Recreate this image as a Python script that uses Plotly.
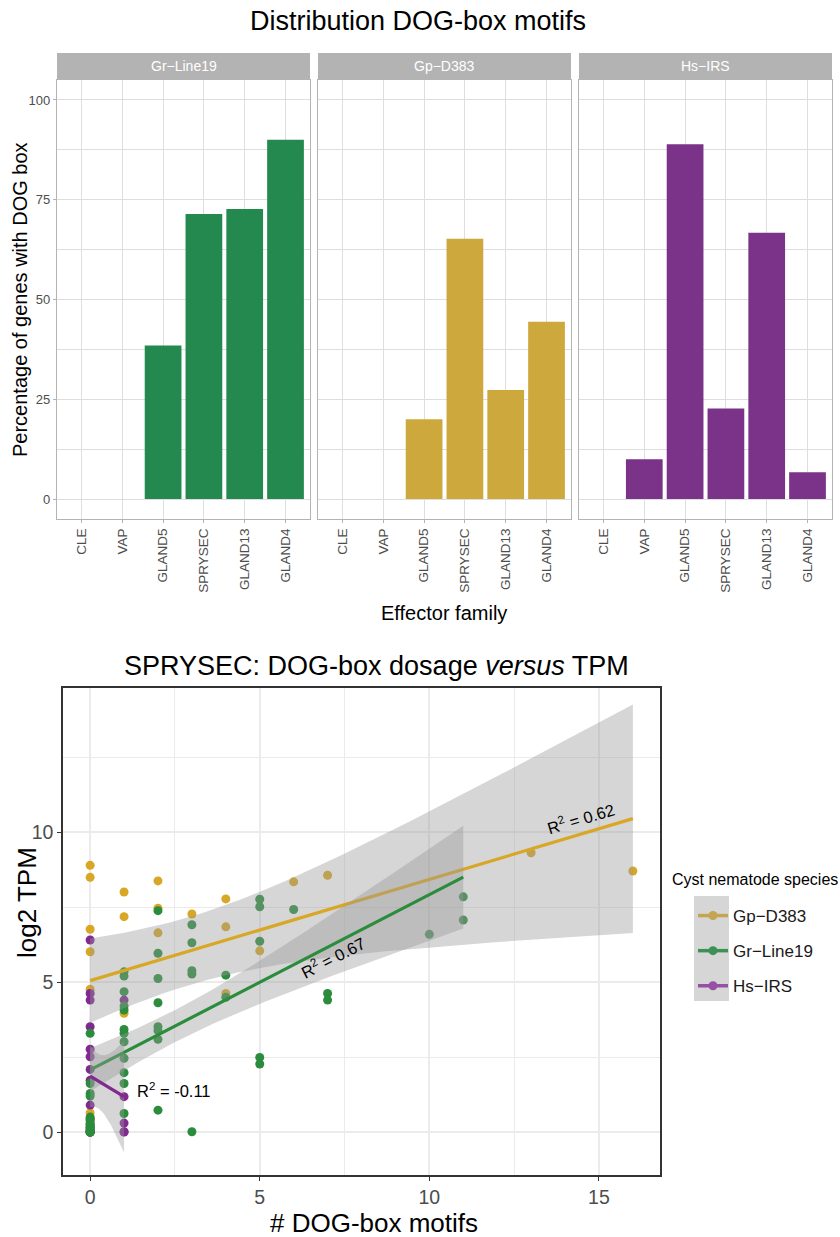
import math
import numpy as np
import plotly.graph_objects as go

FIG_W, FIG_H = 840, 1237

# ---------------- share of genes carrying a DOG box, per effector family ----------------
effector_families = ["CLE", "VAP", "GLAND5", "SPRYSEC", "GLAND13", "GLAND4"]
panel_species = ["Gr−Line19", "Gp−D383", "Hs−IRS"]
pct_gr_line19 = [0.0, 0.0, 38.5, 71.4, 72.7, 90.0]
pct_gp_d383 = [0.0, 0.0, 20.0, 65.2, 27.3, 44.4]
pct_hs_irs = [0.0, 10.0, 88.9, 22.7, 66.7, 6.7]

# ---------------- SPRYSEC genes: number of DOG-box motifs vs log2 TPM ----------------
legend_species = ["Gp−D383", "Gr−Line19", "Hs−IRS"]

gp_motifs = [0, 0, 0, 0, 0, 0, 0, 0, 0,
             1, 1, 1,
             2, 2, 2,
             3,
             4, 4, 4,
             5, 6, 7, 13, 16]
gp_log2tpm = [8.89, 8.49, 6.76, 6.01, 4.76, 0.64, 0.38, 0.12, 0.0,
              8.00, 7.18, 3.96,
              8.37, 7.46, 6.64,
              7.27,
              7.77, 6.84, 4.62,
              6.04, 8.34, 8.56, 9.31, 8.70]

gr_motifs = [0, 0, 0, 0, 0, 0, 0, 0, 0, 0, 0, 0, 0,
             1, 1, 1, 1, 1, 1, 1, 1, 1, 1, 1, 1,
             2, 2, 2, 2, 2, 2, 2, 2,
             3, 3, 3, 3, 3,
             4, 4,
             5, 5, 5, 5, 5,
             6,
             7, 7,
             10,
             11, 11]
gr_log2tpm = [3.29, 1.62, 1.29, 1.20, 0.50, 0.40, 0.30, 0.22, 0.15, 0.10, 0.05, 0.0, 0.0,
              5.34, 5.20, 4.68, 4.20, 4.07, 3.42, 3.29, 3.01, 2.46, 1.98, 1.62, 0.62,
              7.38, 5.96, 5.12, 4.31, 3.51, 3.38, 3.09, 0.73,
              6.91, 6.31, 5.38, 5.27, 0.01,
              5.23, 4.49,
              7.76, 7.51, 6.36, 2.49, 2.27,
              7.42,
              4.62, 4.40,
              6.59,
              7.84, 7.07]

hs_motifs = [0, 0, 0, 0, 0, 0, 0, 0, 0, 0, 0, 0, 0, 0, 0, 0,
             1, 1, 1, 1, 1]
hs_log2tpm = [6.40, 4.62, 4.40, 3.51, 2.76, 2.51, 2.09, 1.73, 0.90, 0.45, 0.25, 0.15, 0.05, 0.0, 0.0, 0.0,
              4.40, 1.18, 0.01, 0.30, 0.0]

r2_values = ["0.62", "0.67", "-0.11"]

# ---------------- colours ----------------
bar_colors = ["#24894F", "#CDA83D", "#7B3289"]
pt_colors = {"Gp−D383": "#D8A726", "Gr−Line19": "#2A8C3C", "Hs−IRS": "#80298F"}
key_colors = {"Gp−D383": "#C4A650", "Gr−Line19": "#3E9155", "Hs−IRS": "#9650A5"}
FONT = "Liberation Sans, Arial, sans-serif"


def px_x(px):
    return px / FIG_W


def px_y(py):
    return 1 - py / FIG_H


def t_quantile_975(df):
    # Cornish-Fisher expansion of the Student t 97.5% quantile
    z = 1.959963985
    g1 = (z ** 3 + z) / 4
    g2 = (5 * z ** 5 + 16 * z ** 3 + 3 * z) / 96
    g3 = (3 * z ** 7 + 19 * z ** 5 + 17 * z ** 3 - 15 * z) / 384
    return z + g1 / df + g2 / df ** 2 + g3 / df ** 3


def linear_fit(x, y, npts=80):
    x = np.asarray(x, float)
    y = np.asarray(y, float)
    n = len(x)
    xm, ym = x.mean(), y.mean()
    sxx = ((x - xm) ** 2).sum()
    slope = ((x - xm) * (y - ym)).sum() / sxx
    icpt = ym - slope * xm
    resid = y - (icpt + slope * x)
    s = math.sqrt((resid ** 2).sum() / (n - 2))
    xs = np.linspace(x.min(), x.max(), npts)
    fit = icpt + slope * xs
    se = s * np.sqrt(1 / n + (xs - xm) ** 2 / sxx)
    t = t_quantile_975(n - 2)
    return xs, fit, fit - t * se, fit + t * se, slope, icpt


fig = go.Figure()

# ================= top: faceted bars =================
panel_px = [(57, 310), (318, 571), (579, 832)]
top_px = (80, 519)
strip_px = (53, 80)
pct_series = [pct_gr_line19, pct_gp_d383, pct_hs_irs]

for i, (vals, col) in enumerate(zip(pct_series, bar_colors)):
    suffix = "" if i == 0 else str(i + 1)
    fig.add_trace(go.Bar(
        x=effector_families, y=vals, width=0.9,
        marker=dict(color=col, line=dict(width=0)),
        xaxis="x" + suffix, yaxis="y" + suffix,
        showlegend=False, hoverinfo="x+y",
    ))

light_grid = "#DEDEDE"
light_border = "#B3B3B3"
axis_text = "#4D4D4D"

layout = dict(
    width=FIG_W, height=FIG_H, autosize=False,
    margin=dict(l=0, r=0, t=0, b=0, autoexpand=False),
    paper_bgcolor="white", plot_bgcolor="white",
    font=dict(family=FONT, color="#000000"),
    bargap=0.1,
)

for i, (x0, x1) in enumerate(panel_px):
    suffix = "" if i == 0 else str(i + 1)
    layout["xaxis" + suffix] = dict(
        domain=[px_x(x0), px_x(x1)], anchor="y" + suffix,
        type="category", categoryorder="array", categoryarray=effector_families,
        range=[-0.6, 5.6], showgrid=True, gridcolor=light_grid, gridwidth=1.1,
        showline=True, mirror=True, linecolor=light_border, linewidth=1.3,
        ticks="outside", ticklen=3, tickcolor=light_border, tickwidth=1,
        tickangle=-90, tickfont=dict(size=13.5, color=axis_text),
        zeroline=False, fixedrange=True,
    )
    layout["yaxis" + suffix] = dict(
        domain=[px_y(top_px[1]), px_y(top_px[0])], anchor="x" + suffix,
        range=[-5, 105], tickvals=[0, 25, 50, 75, 100],
        showgrid=True, gridcolor=light_grid, gridwidth=1.1,
        minor=dict(dtick=12.5, tick0=0, showgrid=True, gridcolor=light_grid, gridwidth=0.8),
        showline=True, mirror=True, linecolor=light_border, linewidth=1.3,
        ticks="outside" if i == 0 else "", ticklen=3, tickcolor=light_border,
        showticklabels=(i == 0), tickfont=dict(size=13, color=axis_text),
        zeroline=False, fixedrange=True,
    )
    if i > 0:
        layout["yaxis" + suffix]["matches"] = "y"

shapes = []
annotations = []

for (x0, x1), name in zip(panel_px, panel_species):
    shapes.append(dict(type="rect", xref="paper", yref="paper",
                       x0=px_x(x0), x1=px_x(x1), y0=px_y(strip_px[1]), y1=px_y(strip_px[0]),
                       fillcolor="#B3B3B3", line=dict(width=0), layer="above"))
    annotations.append(dict(text=name, xref="paper", yref="paper",
                            x=px_x((x0 + x1) / 2), y=px_y((strip_px[0] + strip_px[1]) / 2),
                            xanchor="center", yanchor="middle", showarrow=False,
                            font=dict(size=14, color="#FFFFFF")))

annotations += [
    dict(text="Distribution DOG-box motifs", xref="paper", yref="paper",
         x=px_x(418), y=px_y(21), xanchor="center", yanchor="middle",
         showarrow=False, font=dict(size=27, color="#000000")),
    dict(text="Percentage of genes with DOG box", xref="paper", yref="paper",
         x=px_x(20), y=px_y(300), xanchor="center", yanchor="middle", textangle=-90,
         showarrow=False, font=dict(size=20, color="#000000")),
    dict(text="Effector family", xref="paper", yref="paper",
         x=px_x(444), y=px_y(613), xanchor="center", yanchor="middle",
         showarrow=False, font=dict(size=20, color="#000000")),
]

# ================= bottom: dosage vs expression =================
bx = (63, 660)
by = (688, 1175)
xr = [-0.8, 16.8]
yr = [-1.43, 14.8]

scatter_sets = [
    ("Gp−D383", gp_motifs, gp_log2tpm),
    ("Hs−IRS", hs_motifs, hs_log2tpm),
    ("Gr−Line19", gr_motifs, gr_log2tpm),
]
for name, xv, yv in scatter_sets:
    fig.add_trace(go.Scatter(
        x=xv, y=yv, mode="markers", name=name,
        marker=dict(size=9, color=pt_colors[name], line=dict(width=0)),
        xaxis="x4", yaxis="y4", showlegend=False,
    ))

fit_sets = [
    ("Gp−D383", gp_motifs, gp_log2tpm),
    ("Gr−Line19", gr_motifs, gr_log2tpm),
    ("Hs−IRS", hs_motifs, hs_log2tpm),
]
fits = {}
for name, xv, yv in fit_sets:
    xs, fit, lo, hi, slope, icpt = linear_fit(xv, yv)
    fits[name] = (slope, icpt)
    fig.add_trace(go.Scatter(
        x=np.concatenate([xs, xs[::-1]]), y=np.concatenate([hi, lo[::-1]]),
        fill="toself", fillcolor="rgba(153,153,153,0.4)", line=dict(width=0),
        mode="lines", xaxis="x4", yaxis="y4", showlegend=False, hoverinfo="skip",
    ))
    fig.add_trace(go.Scatter(
        x=xs, y=fit, mode="lines", line=dict(color=pt_colors[name], width=3.2),
        xaxis="x4", yaxis="y4", showlegend=False, hoverinfo="skip",
    ))

# legend keys
for name in legend_species:
    fig.add_trace(go.Scatter(
        x=[None], y=[None], mode="lines+markers", name=name, legendgroup=name,
        line=dict(color=key_colors[name], width=3.5),
        marker=dict(size=9, color=key_colors[name]),
        xaxis="x4", yaxis="y4", showlegend=True,
    ))

bw_grid = "#EBEBEB"
layout["xaxis4"] = dict(
    domain=[px_x(bx[0]), px_x(bx[1])], anchor="y4", range=xr,
    tickvals=[0, 5, 10, 15], showgrid=True, gridcolor=bw_grid, gridwidth=1.5,
    minor=dict(dtick=2.5, tick0=0, showgrid=True, gridcolor=bw_grid, gridwidth=0.9),
    showline=True, mirror=True, linecolor="#333333", linewidth=1.5,
    ticks="outside", ticklen=4, tickcolor="#333333", tickwidth=1.2,
    tickfont=dict(size=19.5, color=axis_text), zeroline=False, fixedrange=True,
)
layout["yaxis4"] = dict(
    domain=[px_y(by[1]), px_y(by[0])], anchor="x4", range=yr,
    tickvals=[0, 5, 10], showgrid=True, gridcolor=bw_grid, gridwidth=1.5,
    minor=dict(dtick=2.5, tick0=0, showgrid=True, gridcolor=bw_grid, gridwidth=0.9),
    showline=True, mirror=True, linecolor="#333333", linewidth=1.5,
    ticks="outside", ticklen=4, tickcolor="#333333", tickwidth=1.2,
    tickfont=dict(size=19.5, color=axis_text), zeroline=False, fixedrange=True,
)

# R² labels, set along each fitted line
px_per_x = (bx[1] - bx[0]) / (xr[1] - xr[0])
px_per_y = (by[1] - by[0]) / (yr[1] - yr[0])
label_spots = [
    ("Gp−D383", 14.47, 0.55),
    ("Gr−Line19", 7.15, -0.40),
]
for (name, lx, off), r2 in zip(label_spots, r2_values[:2]):
    slope, icpt = fits[name]
    ang = -math.degrees(math.atan(slope * px_per_y / px_per_x))
    annotations.append(dict(
        text="R<sup>2</sup> = " + r2, xref="x4", yref="y4",
        x=lx, y=icpt + slope * lx + off, xanchor="center", yanchor="middle",
        textangle=ang, showarrow=False, font=dict(size=16.5, color="#000000"),
    ))
annotations.append(dict(
    text="R<sup>2</sup> = " + r2_values[2], xref="x4", yref="y4",
    x=1.33, y=1.4, xanchor="left", yanchor="middle",
    showarrow=False, font=dict(size=16.5, color="#000000"),
))

annotations += [
    dict(text="SPRYSEC: DOG-box dosage <i>versus</i> TPM", xref="paper", yref="paper",
         x=px_x(122), y=px_y(666), xanchor="left", yanchor="middle",
         showarrow=False, font=dict(size=27, color="#000000")),
    dict(text="log2 TPM", xref="paper", yref="paper",
         x=px_x(27), y=px_y(902), xanchor="center", yanchor="middle", textangle=-90,
         showarrow=False, font=dict(size=26, color="#000000")),
    dict(text="# DOG-box motifs", xref="paper", yref="paper",
         x=px_x(374), y=px_y(1223), xanchor="center", yanchor="middle",
         showarrow=False, font=dict(size=26, color="#000000")),
    dict(text="Cyst nematode species", xref="paper", yref="paper",
         x=px_x(670), y=px_y(879), xanchor="left", yanchor="middle",
         showarrow=False, font=dict(size=16, color="#000000")),
]

# grey key background behind legend symbols
shapes.append(dict(type="rect", xref="paper", yref="paper",
                   x0=px_x(694), x1=px_x(729), y0=px_y(1001), y1=px_y(896),
                   fillcolor="#D6D6D6", line=dict(width=0), layer="below"))

layout["legend"] = dict(
    x=px_x(693), y=px_y(898), xanchor="left", yanchor="top",
    font=dict(size=17, color="#1A1A1A"), itemwidth=30,
    traceorder="grouped", tracegroupgap=10, bgcolor="rgba(0,0,0,0)",
)
layout["shapes"] = shapes
layout["annotations"] = annotations

fig.update_layout(**layout)
fig.write_html("out.html")
